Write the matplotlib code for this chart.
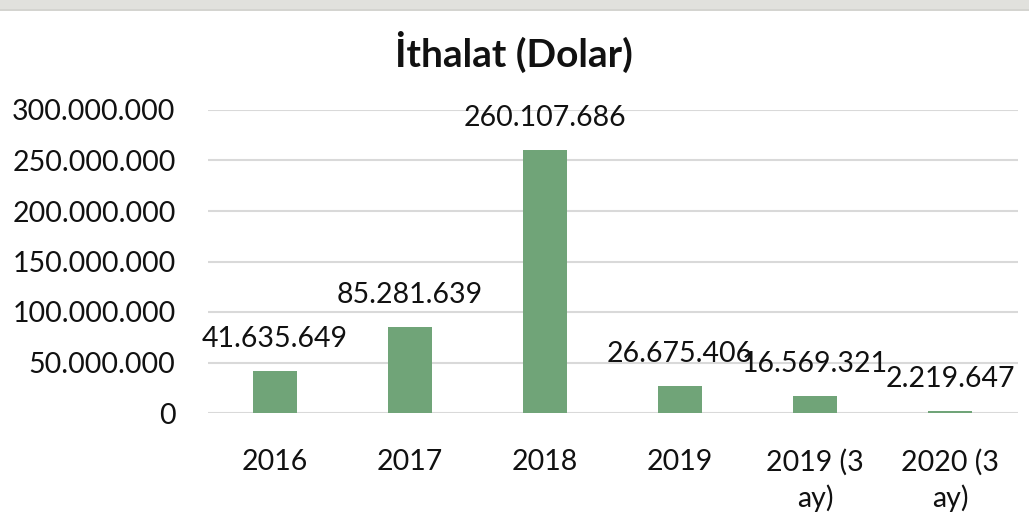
import matplotlib
matplotlib.use("Agg")
import matplotlib.pyplot as plt
from matplotlib.patches import Rectangle
from matplotlib.ticker import FuncFormatter

categories = ["2016", "2017", "2018", "2019", "2019 (3\nay)", "2020 (3\nay)"]
values = [41635649, 85281639, 260107686, 26675406, 16569321, 2219647]
title = "İthalat (Dolar)"
yticks = [0, 50e6, 100e6, 150e6, 200e6, 250e6, 300e6]

plt.rcParams['font.family'] = ['Lato', 'DejaVu Sans']

def fmt(v):
    return f"{v:,.0f}".replace(",", ".")

W, H = 1029, 525
fig = plt.figure(figsize=(W / 100, H / 100), dpi=100)
fig.patches.append(Rectangle((0, 1 - 9 / H), 1, 9 / H, transform=fig.transFigure,
                             facecolor="#e1e1dd", edgecolor="none"))
fig.patches.append(Rectangle((0, 1 - 11 / H), 1, 2 / H, transform=fig.transFigure,
                             facecolor="#d4d4d0", edgecolor="none"))

left, right, top, bottom = 207.5, 1017.5, 110, 413
ax = fig.add_axes([left / W, 1 - bottom / H, (right - left) / W, (bottom - top) / H])
x = list(range(len(categories)))
bars = ax.bar(x, values, width=0.33, color="#70a478", zorder=2)
ax.set_xlim(-0.5, len(categories) - 0.5)
ax.set_ylim(0, 300e6)
ax.set_yticks(yticks)
ax.yaxis.set_major_formatter(FuncFormatter(lambda v, p: fmt(v)))
ax.set_xticks(x)
ax.set_xticklabels(categories, linespacing=1.35)
ax.yaxis.grid(True, color="#d9d9d9", linewidth=1.5, zorder=0)
ax.set_axisbelow(True)
for s in ax.spines.values():
    s.set_visible(False)
ax.tick_params(axis="both", length=0, labelsize=20.5, colors="#111111")
ax.tick_params(axis="x", pad=26)
ax.tick_params(axis="y", pad=23)

for xi, v in zip(x, values):
    ax.annotate(fmt(v), (xi, v), xytext=(0, 23), textcoords="offset points",
                ha="center", va="center", fontsize=20.5, color="#111111")

fig.text(514 / W, 1 - 52 / H, title, ha="center", va="center", fontsize=28,
         fontweight="bold", color="#111111")

fig.savefig("out.png", dpi=100, facecolor="white")
